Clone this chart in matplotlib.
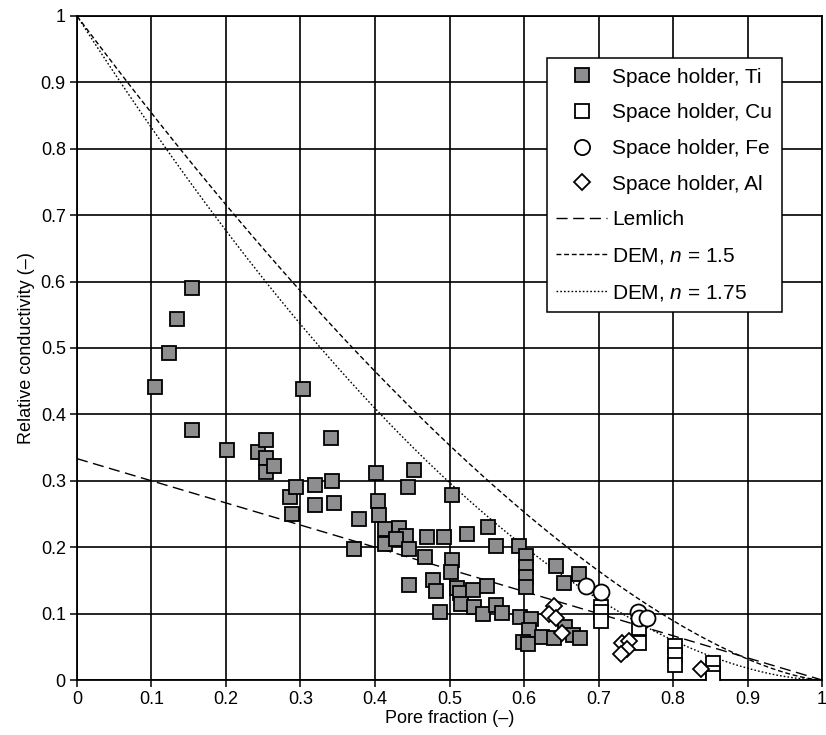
import numpy as np
import matplotlib
matplotlib.use("Agg")
import matplotlib.pyplot as plt
from matplotlib.ticker import FuncFormatter, MultipleLocator

plt.rcParams['font.family'] = ['Liberation Sans', 'DejaVu Sans']
plt.rcParams['mathtext.fontset'] = 'custom'
plt.rcParams['mathtext.rm'] = 'Liberation Sans'
plt.rcParams['mathtext.it'] = 'Liberation Sans:italic'

# Measured data: pore fraction vs. relative conductivity
ti_pore = [0.105, 0.123, 0.134, 0.154, 0.154, 0.201, 0.243, 0.254, 0.254, 0.254,
           0.264, 0.286, 0.288, 0.294, 0.304, 0.319, 0.320, 0.341, 0.342, 0.345,
           0.372, 0.379, 0.402, 0.404, 0.405, 0.414, 0.414, 0.432, 0.442, 0.428,
           0.444, 0.446, 0.453, 0.445, 0.470, 0.467, 0.478, 0.482, 0.487, 0.492,
           0.503, 0.504, 0.502, 0.510, 0.514, 0.516, 0.523, 0.531, 0.533, 0.545,
           0.550, 0.552, 0.562, 0.563, 0.571, 0.593, 0.602, 0.602, 0.602, 0.602,
           0.595, 0.609, 0.607, 0.599, 0.606, 0.624, 0.640, 0.643, 0.654, 0.655,
           0.666, 0.675, 0.674]
ti_cond = [0.442, 0.492, 0.543, 0.591, 0.376, 0.347, 0.344, 0.362, 0.335, 0.313,
           0.323, 0.276, 0.250, 0.291, 0.438, 0.294, 0.263, 0.364, 0.299, 0.266,
           0.197, 0.243, 0.311, 0.270, 0.248, 0.228, 0.205, 0.229, 0.217, 0.213,
           0.291, 0.198, 0.316, 0.143, 0.216, 0.185, 0.151, 0.134, 0.103, 0.216,
           0.279, 0.181, 0.162, 0.138, 0.131, 0.114, 0.220, 0.135, 0.110, 0.099,
           0.142, 0.231, 0.202, 0.113, 0.101, 0.202, 0.187, 0.170, 0.155, 0.140,
           0.095, 0.092, 0.076, 0.058, 0.054, 0.065, 0.063, 0.171, 0.146, 0.080,
           0.068, 0.063, 0.160]

cu_pore = [0.703, 0.703, 0.703, 0.754, 0.754, 0.803, 0.803, 0.803, 0.853, 0.853, 0.853]
cu_cond = [0.110, 0.102, 0.089, 0.078, 0.055, 0.051, 0.037, 0.023, 0.026, 0.011, 0.003]

fe_pore = [0.683, 0.704, 0.753, 0.754, 0.765]
fe_cond = [0.142, 0.132, 0.103, 0.093, 0.093]

al_pore = [0.640, 0.633, 0.643, 0.651, 0.731, 0.741, 0.738, 0.730, 0.837]
al_cond = [0.111, 0.100, 0.094, 0.071, 0.056, 0.059, 0.046, 0.039, 0.016]

# Model curves
p = np.linspace(0, 1, 400)
lemlich = (1 - p) / 3
dem_15 = (1 - p) ** 1.5
dem_175 = (1 - p) ** 1.75

fig = plt.figure(figsize=(8.26, 7.35), dpi=100)
ax = fig.add_axes([0.0932, 0.0748, 0.902, 0.9035])

ax.set_xlim(0, 1)
ax.set_ylim(0, 1)
ax.xaxis.set_major_locator(MultipleLocator(0.1))
ax.yaxis.set_major_locator(MultipleLocator(0.1))
fmt = FuncFormatter(lambda v, pos: f"{v:.1f}".rstrip('0').rstrip('.') if v not in (0, 1) else f"{int(round(v))}")
ax.xaxis.set_major_formatter(fmt)
ax.yaxis.set_major_formatter(fmt)
ax.grid(True, color='black', linewidth=1.2, zorder=0)
ax.set_axisbelow(True)
for s in ax.spines.values():
    s.set_linewidth(1.3)
ax.tick_params(direction='out', length=5, width=1.1, labelsize=13, pad=3)

ax.plot(p, lemlich, color='black', lw=1.0, dashes=(8, 4), label='Lemlich', zorder=2)
ax.plot(p, dem_15, color='black', lw=1.0, dashes=(3.5, 2), label='DEM, $n$ = 1.5', zorder=2)
ax.plot(p, dem_175, color='black', lw=1.0, dashes=(1.2, 1.5), label='DEM, $n$ = 1.75', zorder=2)

ax.plot(ti_pore, ti_cond, 's', ms=10, mfc='#8e8e91', mec='black', mew=1.3,
        label='Space holder, Ti', zorder=3)
ax.plot(cu_pore, cu_cond, 's', ms=10, mfc='white', mec='black', mew=1.3,
        label='Space holder, Cu', zorder=4)
ax.plot(fe_pore, fe_cond, 'o', ms=11.5, mfc='white', mec='black', mew=1.3,
        label='Space holder, Fe', zorder=5)
ax.plot(al_pore, al_cond, 'D', ms=8.5, mfc='white', mec='black', mew=1.3,
        label='Space holder, Al', zorder=6)

ax.set_xlabel('Pore fraction (–)', fontsize=13, labelpad=1)
ax.set_ylabel('Relative conductivity (–)', fontsize=13, labelpad=4)

handles, labels = ax.get_legend_handles_labels()
order = [3, 4, 5, 6, 0, 1, 2]
leg = ax.legend([handles[i] for i in order], [labels[i] for i in order],
                loc='upper left', bbox_to_anchor=(546.7 / 826, 1 - 58.3 / 735),
                bbox_transform=fig.transFigure, fontsize=15, frameon=True,
                fancybox=False, framealpha=1, edgecolor='black',
                handlelength=2.45, handletextpad=0.25, labelspacing=0.8,
                borderpad=0.45, borderaxespad=0, markerscale=0.95)
leg.get_frame().set_linewidth(1.1)

fig.savefig('out.png', dpi=100)
